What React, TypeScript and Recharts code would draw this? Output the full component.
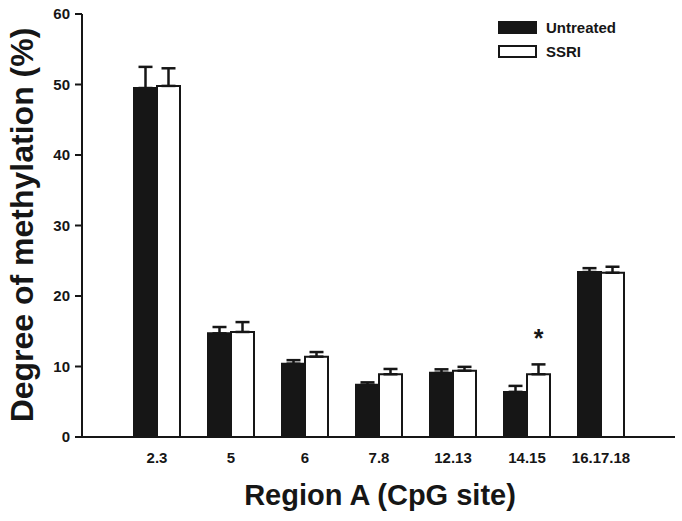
import React from 'react';
import { BarChart, Bar, XAxis, YAxis, ErrorBar, LabelList, Label } from 'recharts';

const categories = ['2.3', '5', '6', '7.8', '12.13', '14.15', '16.17.18'];
const untreated = [49.5, 14.7, 10.4, 7.4, 9.1, 6.4, 23.4];
const untreatedErr = [3.0, 0.9, 0.5, 0.35, 0.5, 0.85, 0.55];
const ssri = [49.8, 14.9, 11.4, 8.9, 9.4, 8.9, 23.3];
const ssriErr = [2.5, 1.4, 0.65, 0.75, 0.55, 1.4, 0.85];
const significance = ['', '', '', '', '', '*', ''];
const yTicks = [0, 10, 20, 30, 40, 50, 60];

const data = categories.map((c, i) => ({
  site: c,
  untreated: untreated[i],
  untreatedErr: [0, untreatedErr[i]],
  ssri: ssri[i],
  ssriErr: [0, ssriErr[i]],
  sig: significance[i],
}));

const FONT = '"Liberation Sans", Arial, Helvetica, sans-serif';
const INK = '#161616';

const StarLabel = (props: any) => {
  const { x, y, width, value } = props;
  if (!value) return null;
  return (
    <text x={x + width / 2} y={y - 27} textAnchor="middle" fontFamily={FONT} fontWeight="bold" fontSize={25} fill={INK}>
      {value}
    </text>
  );
};

const LegendBox = () => (
  <div style={{ position: 'absolute', left: 498, top: 21, fontFamily: FONT, fontWeight: 'bold', fontSize: 15, color: INK }}>
    <div style={{ display: 'flex', alignItems: 'center', height: 13, marginBottom: 11 }}>
      <div style={{ width: 39, height: 13, background: INK, boxSizing: 'border-box' }} />
      <span style={{ marginLeft: 9 }}>Untreated</span>
    </div>
    <div style={{ display: 'flex', alignItems: 'center', height: 13 }}>
      <div style={{ width: 39, height: 13, background: '#fff', border: `2px solid ${INK}`, boxSizing: 'border-box' }} />
      <span style={{ marginLeft: 9 }}>SSRI</span>
    </div>
  </div>
);

export default function App() {
  return (
    <div style={{ position: 'absolute', left: 0, top: 0, width: 682, height: 521, background: '#fff' }}>
      <BarChart
        width={682}
        height={521}
        data={data}
        margin={{ top: 14, right: 7, left: 0, bottom: 0 }}
        barGap={0}
        barCategoryGap={14}
      >
        <XAxis
          dataKey="site"
          height={84}
          padding={{ left: 38, right: 37 }}
          tickLine={false}
          axisLine={{ stroke: INK, strokeWidth: 2 }}
          tick={{ fontFamily: FONT, fontWeight: 'bold', fontSize: 15, fill: INK }}
          tickMargin={9}
          interval={0}
        >
          <Label
            content={() => (
              <text x={380} y={505} textAnchor="middle" fontFamily={FONT} fontWeight="bold" fontSize={29} fill={INK}>
                Region A (CpG site)
              </text>
            )}
          />
        </XAxis>
        <YAxis
          width={82}
          domain={[0, 60]}
          ticks={yTicks}
          interval={0}
          tickSize={7}
          tickMargin={5}
          tickLine={{ stroke: INK, strokeWidth: 2 }}
          axisLine={{ stroke: INK, strokeWidth: 2 }}
          tick={{ fontFamily: FONT, fontWeight: 'bold', fontSize: 15, fill: INK }}
        >
          <Label
            content={() => (
              <text
                x={33}
                y={225}
                transform="rotate(-90, 33, 225)"
                textAnchor="middle"
                fontFamily={FONT}
                fontWeight="bold"
                fontSize={32}
                fill={INK}
              >
                Degree of methylation (%)
              </text>
            )}
          />
        </YAxis>
        <Bar dataKey="untreated" fill={INK} stroke={INK} strokeWidth={2} isAnimationActive={false}>
          <ErrorBar dataKey="untreatedErr" direction="y" width={7} stroke={INK} strokeWidth={2.5} />
        </Bar>
        <Bar dataKey="ssri" fill="#fff" stroke={INK} strokeWidth={2} isAnimationActive={false}>
          <ErrorBar dataKey="ssriErr" direction="y" width={7} stroke={INK} strokeWidth={2.5} />
          <LabelList dataKey="sig" content={<StarLabel />} />
        </Bar>
      </BarChart>
      <LegendBox />
    </div>
  );
}
